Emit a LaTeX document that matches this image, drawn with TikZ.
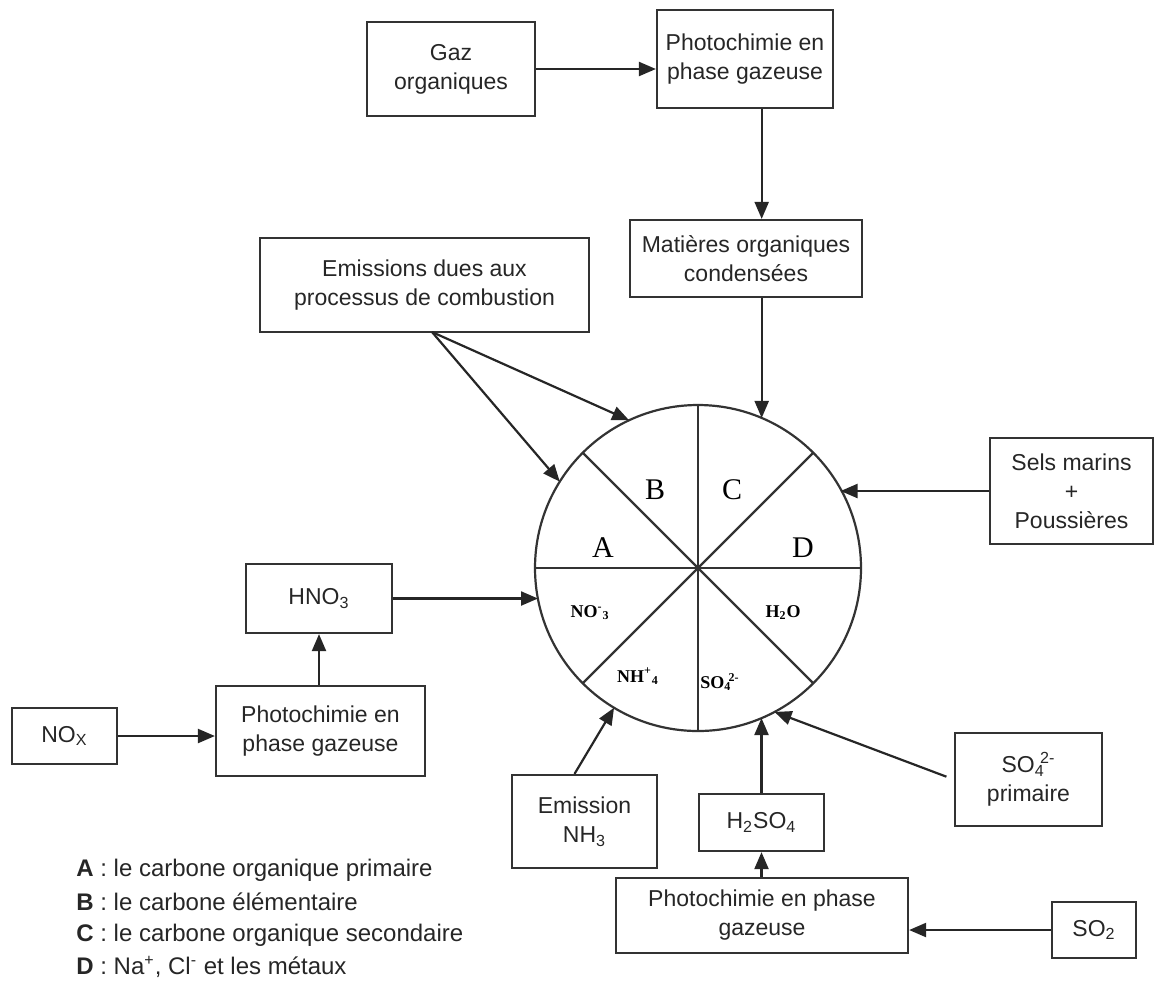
\documentclass[tikz,border=0pt]{standalone}
\usepackage{fontspec}
\setmainfont{Liberation Sans}
\newfontfamily\romain{Liberation Serif}
\usetikzlibrary{arrows.meta}
\tikzset{
  boite/.style={draw=black!80,line width=1.1pt,align=center,inner sep=2pt,text=black!85,
    font=\fontsize{11.5}{14.5}\selectfont},
  fleche/.style={->,line width=1.1pt,draw=black!85},
  lettre/.style={font=\romain\fontsize{15}{18}\selectfont},
  ion/.style={font=\romain\bfseries\fontsize{9}{11}\selectfont},
  legende/.style={anchor=west,inner sep=0pt,text=black!85,font=\fontsize{12}{15}\selectfont}
}

\begin{document}
\begin{tikzpicture}[x=0.5pt,y=-0.5pt,>={Triangle[length=8.5pt,width=7pt]}]
\useasboundingbox (0,0) rectangle (1155,981);

% les boites
\node[boite,minimum width=84pt,minimum height=47pt] (gaz) at (451,69) {Gaz\\organiques};
\node[boite,minimum width=88pt,minimum height=49pt] (photoH) at (745,59) {Photochimie en\\phase gazeuse};
\node[boite,minimum width=116pt,minimum height=38.5pt] (matieres) at (746,258.5) {Matières organiques\\condensées};
\node[boite,minimum width=164.5pt,minimum height=47pt] (emissions) at (424.5,285) {Emissions dues aux\\processus de combustion};
\node[boite,minimum width=81.5pt,minimum height=53pt] (sels) at (1071.5,491) {Sels marins\\+\\Poussières};
\node[boite,minimum width=73pt,minimum height=34.5pt] (hno3) at (319,598.5) {HNO\textsubscript{3}};
\node[boite,minimum width=104.5pt,minimum height=45pt] (photoG) at (320.5,731) {Photochimie en\\phase gazeuse};
\node[boite,minimum width=52.5pt,minimum height=28pt] (nox) at (64.5,736) {NO\textsubscript{X}};
\node[boite,minimum width=72.5pt,minimum height=46.5pt] (nh3) at (584.5,821.5) {Emission\\NH\textsubscript{3}};
\node[boite,minimum width=62.5pt,minimum height=28.5pt] (h2so4) at (761.5,822.5) {H\textsubscript{2}SO\textsubscript{4}};
\node[boite,minimum width=73.5pt,minimum height=46.5pt] (so4p) at (1028.5,779.5) {SO\textsubscript{4}\kern-0.2em\textsuperscript{2-}\\primaire};
\node[boite,minimum width=146pt,minimum height=37.5pt] (photoB) at (762,915.5) {Photochimie en phase\\gazeuse};
\node[boite,minimum width=42pt,minimum height=28pt] (so2) at (1094,930) {SO\textsubscript{2}};

% le disque
\node[draw=black!80,line width=1.1pt,circle,minimum size=163pt,inner sep=0pt,outer sep=0pt] (disque) at (698,568) {};
\foreach \a/\b in {0/180,45/225,90/270,135/315}
{
    \draw[black!80,line width=1.1pt] (disque.\a)--(disque.\b);
}
\node[lettre] (lA) at (603,548) {A};
\node[lettre] (lB) at (655,490) {B};
\node[lettre] (lC) at (732,490) {C};
\node[lettre] (lD) at (803,548) {D};
\node[ion] (no3) at (590,613) {NO\textsuperscript{-}\textsubscript{3}};
\node[ion] (h2o) at (783,613) {H\textsubscript{2}O};
\node[ion] (nh4) at (638,676) {NH\textsuperscript{+}\textsubscript{4}};
\node[ion] (so4) at (720,682) {SO\textsubscript{4}\kern-0.15em\textsuperscript{2-}};

% les fleches
\coordinate (e0) at (432,332);
\draw[fleche] (gaz.east)--(gaz.east-|photoH.west);
\draw[fleche] (photoH.south-|disque.67)--(matieres.north-|disque.67);
\draw[fleche] (matieres.south-|disque.67)--(disque.67);
\draw[fleche] (e0)--(disque.115);
\draw[fleche] (e0)--(disque.148);
\draw[fleche] (sels.west)--(sels.west-|disque.29);
\draw[fleche] (hno3.east)--(hno3.east-|disque.191);
\draw[fleche] (hno3.south|-photoG.north)--(hno3.south);
\draw[fleche] (nox.east)--(nox.east-|photoG.west);
\draw[fleche] ([xshift=-5pt]nh3.north)--(disque.239);
\draw[fleche] (h2so4.north)--(h2so4.north|-disque.293);
\draw[fleche] (photoB.north-|h2so4.south)--(h2so4.south);
\draw[fleche] (so2.west)--(so2.west-|photoB.east);
\draw[fleche,shorten <=4pt] (so4p.west)--(disque.298);

% legende
\foreach \l/\t/\y in {A/{le carbone organique primaire}/870,B/{le carbone élémentaire}/902,
  C/{le carbone organique secondaire}/935,D/{Na\textsuperscript{+}, Cl\textsuperscript{-} et les métaux}/967}
{
    \node[legende] (leg\l) at (76,\y) {\textbf{\l} : \t};
}
\end{tikzpicture}
\end{document}
